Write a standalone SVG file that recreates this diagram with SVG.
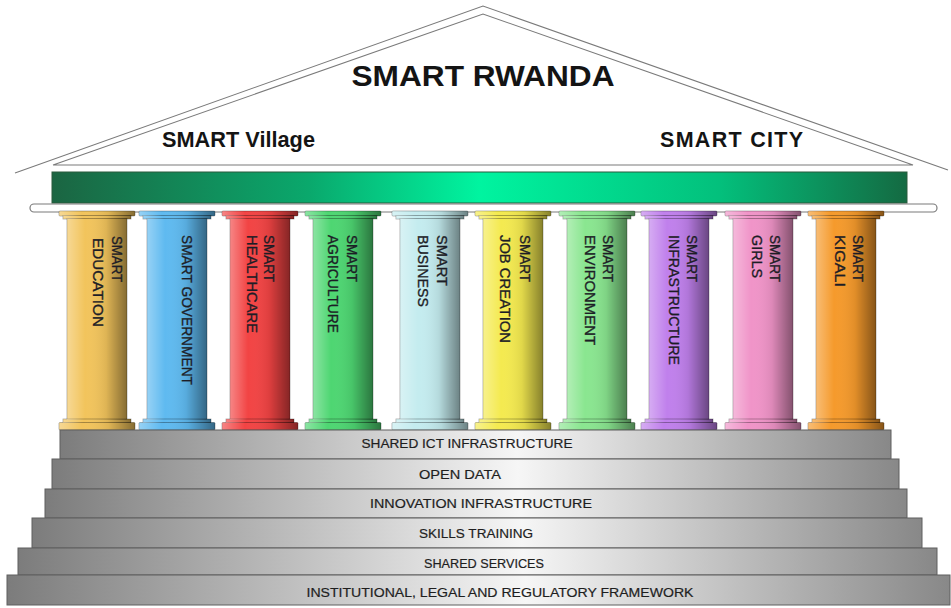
<svg xmlns="http://www.w3.org/2000/svg" xmlns:xlink="http://www.w3.org/1999/xlink" width="951" height="608" viewBox="0 0 951 608">
<style>
.roofline{fill:none;stroke:#7a7a7a;stroke-width:1.1}
.rt{font-family:"Liberation Sans",Arial,sans-serif;font-weight:bold;fill:#141414}
.ct{font-family:"Liberation Sans",Arial,sans-serif;font-size:15px;fill:#1d1d26;stroke:#1d1d26;stroke-width:0.35}
.step{fill:url(#stepGrad);stroke:#5f5f5f;stroke-width:1}
.st{font-family:"Liberation Sans",Arial,sans-serif;font-size:13.5px;fill:#1e1e1e;stroke:#1e1e1e;stroke-width:0.2;text-anchor:middle}
.colfill{stroke:rgba(0,0,0,0.35);stroke-width:0.8}
</style>
<defs>
<linearGradient id="beamGrad" x1="0" y1="0" x2="1" y2="0">
<stop offset="0" stop-color="#1b6542"/>
<stop offset="0.3" stop-color="#0aa86c"/>
<stop offset="0.5" stop-color="#00f4a0"/>
<stop offset="0.78" stop-color="#03c07c"/>
<stop offset="1" stop-color="#146a42"/>
</linearGradient>
<linearGradient id="stepGrad" x1="0" y1="0" x2="1" y2="0">
<stop offset="0" stop-color="#7c7c7c"/>
<stop offset="0.55" stop-color="#f6f6f6"/>
<stop offset="1" stop-color="#888888"/>
</linearGradient>
<linearGradient id="shade" x1="0" y1="0" x2="1" y2="0">
<stop offset="0" stop-color="#ffffff" stop-opacity="0.35"/>
<stop offset="0.3" stop-color="#ffffff" stop-opacity="0"/>
<stop offset="0.65" stop-color="#000000" stop-opacity="0.08"/>
<stop offset="1" stop-color="#000000" stop-opacity="0.45"/>
</linearGradient>
<g id="colshape">
<rect x="-38" y="211" width="76" height="5" rx="1"/>
<rect x="-34" y="215.5" width="68" height="3.5"/>
<rect x="-30" y="218.5" width="60" height="201"/>
<rect x="-34" y="419" width="68" height="4"/>
<rect x="-38" y="422.5" width="76" height="7.5" rx="1"/>
</g>
</defs>
<rect width="951" height="608" fill="#ffffff"/>

<g id="roof">
<polygon points="15,173 483,6 948,170" fill="#ffffff" stroke="none"/>
<polyline class="roofline" points="15,173 483,6 948,170"/>
<polyline class="roofline" points="53,165 483,14 913,165 53,165"/>
<text class="rt" x="483" y="86" font-size="30" text-anchor="middle" textLength="263" lengthAdjust="spacingAndGlyphs">SMART RWANDA</text>
<text class="rt" x="162" y="147" font-size="21.5" textLength="153" lengthAdjust="spacingAndGlyphs">SMART Village</text>
<text class="rt" x="660" y="147" font-size="21.5" textLength="143" lengthAdjust="spacing">SMART  CITY</text>
</g>

<g id="beam">
<rect x="52" y="172" width="855" height="31" fill="url(#beamGrad)" stroke="#2b5a3c" stroke-width="1"/>
<rect x="30" y="204" width="907" height="8" rx="4" fill="#ffffff" stroke="#7a7a7a" stroke-width="1.2"/>
</g>

<g id="col-education">
<use xlink:href="#colshape" x="97" class="colfill" fill="#f2c45c"/>
<use xlink:href="#colshape" x="97" fill="url(#shade)"/>
<text class="ct" transform="translate(112,236) rotate(90)" textLength="46" lengthAdjust="spacingAndGlyphs">SMART</text>
<text class="ct" transform="translate(93,238) rotate(90)" textLength="89" lengthAdjust="spacingAndGlyphs">EDUCATION</text>
</g>
<g id="col-government">
<use xlink:href="#colshape" x="177" class="colfill" fill="#5fbaf0"/>
<use xlink:href="#colshape" x="177" fill="url(#shade)"/>
<text class="ct" transform="translate(182,235) rotate(90)" textLength="150" lengthAdjust="spacingAndGlyphs">SMART GOVERNMENT</text>
</g>
<g id="col-healthcare">
<use xlink:href="#colshape" x="260" class="colfill" fill="#f24444"/>
<use xlink:href="#colshape" x="260" fill="url(#shade)"/>
<text class="ct" transform="translate(264,235) rotate(90)" textLength="47" lengthAdjust="spacingAndGlyphs">SMART</text>
<text class="ct" transform="translate(247,235) rotate(90)" textLength="98" lengthAdjust="spacingAndGlyphs">HEALTHCARE</text>
</g>
<g id="col-agriculture">
<use xlink:href="#colshape" x="343" class="colfill" fill="#4ed672"/>
<use xlink:href="#colshape" x="343" fill="url(#shade)"/>
<text class="ct" transform="translate(347,235) rotate(90)" textLength="47" lengthAdjust="spacingAndGlyphs">SMART</text>
<text class="ct" transform="translate(328,235) rotate(90)" textLength="98" lengthAdjust="spacingAndGlyphs">AGRICULTURE</text>
</g>
<g id="col-business">
<use xlink:href="#colshape" x="430" class="colfill" fill="#c4ecef"/>
<use xlink:href="#colshape" x="430" fill="url(#shade)"/>
<text class="ct" transform="translate(437,235) rotate(90)" textLength="51" lengthAdjust="spacingAndGlyphs">SMART</text>
<text class="ct" transform="translate(418,235) rotate(90)" textLength="72" lengthAdjust="spacingAndGlyphs">BUSINESS</text>
</g>
<g id="col-jobcreation">
<use xlink:href="#colshape" x="513" class="colfill" fill="#f4ea50"/>
<use xlink:href="#colshape" x="513" fill="url(#shade)"/>
<text class="ct" transform="translate(520,235) rotate(90)" textLength="47" lengthAdjust="spacingAndGlyphs">SMART</text>
<text class="ct" transform="translate(500,235) rotate(90)" textLength="108" lengthAdjust="spacingAndGlyphs">JOB CREATION</text>
</g>
<g id="col-environment">
<use xlink:href="#colshape" x="597" class="colfill" fill="#8ae690"/>
<use xlink:href="#colshape" x="597" fill="url(#shade)"/>
<text class="ct" transform="translate(603,235) rotate(90)" textLength="47" lengthAdjust="spacingAndGlyphs">SMART</text>
<text class="ct" transform="translate(585,235) rotate(90)" textLength="110" lengthAdjust="spacingAndGlyphs">ENVIRONMENT</text>
</g>
<g id="col-infrastructure">
<use xlink:href="#colshape" x="679" class="colfill" fill="#c080ec"/>
<use xlink:href="#colshape" x="679" fill="url(#shade)"/>
<text class="ct" transform="translate(687,235) rotate(90)" textLength="47" lengthAdjust="spacingAndGlyphs">SMART</text>
<text class="ct" transform="translate(669,235) rotate(90)" textLength="130" lengthAdjust="spacingAndGlyphs">INFRASTRUCTURE</text>
</g>
<g id="col-girls">
<use xlink:href="#colshape" x="763" class="colfill" fill="#f094c8"/>
<use xlink:href="#colshape" x="763" fill="url(#shade)"/>
<text class="ct" transform="translate(770,235) rotate(90)" textLength="47" lengthAdjust="spacingAndGlyphs">SMART</text>
<text class="ct" transform="translate(752,235) rotate(90)" textLength="43" lengthAdjust="spacingAndGlyphs">GIRLS</text>
</g>
<g id="col-kigali">
<use xlink:href="#colshape" x="846" class="colfill" fill="#f59a2c"/>
<use xlink:href="#colshape" x="846" fill="url(#shade)"/>
<text class="ct" transform="translate(853,235) rotate(90)" textLength="47" lengthAdjust="spacingAndGlyphs">SMART</text>
<text class="ct" transform="translate(835,235) rotate(90)" textLength="52" lengthAdjust="spacingAndGlyphs">KIGALI</text>
</g>

<g id="step-1">
<rect class="step" x="60" y="430" width="831" height="29"/>
<text class="st" x="467" y="448" textLength="211" lengthAdjust="spacingAndGlyphs">SHARED ICT INFRASTRUCTURE</text>
</g>
<g id="step-2">
<rect class="step" x="52" y="459" width="847" height="30"/>
<text class="st" x="460" y="479" textLength="82" lengthAdjust="spacingAndGlyphs">OPEN DATA</text>
</g>
<g id="step-3">
<rect class="step" x="45" y="489" width="862" height="29"/>
<text class="st" x="481" y="508" textLength="222" lengthAdjust="spacingAndGlyphs">INNOVATION INFRASTRUCTURE</text>
</g>
<g id="step-4">
<rect class="step" x="32" y="518" width="890" height="30"/>
<text class="st" x="476" y="538" textLength="114" lengthAdjust="spacingAndGlyphs">SKILLS TRAINING</text>
</g>
<g id="step-5">
<rect class="step" x="18" y="548" width="919" height="27"/>
<text class="st" x="484" y="568" textLength="120" lengthAdjust="spacingAndGlyphs">SHARED SERVICES</text>
</g>
<g id="step-6">
<rect class="step" x="7" y="575" width="943" height="30"/>
<text class="st" x="500" y="597" textLength="387" lengthAdjust="spacingAndGlyphs">INSTITUTIONAL, LEGAL AND REGULATORY FRAMEWORK</text>
</g>
<g id="connectors"/>
</svg>
